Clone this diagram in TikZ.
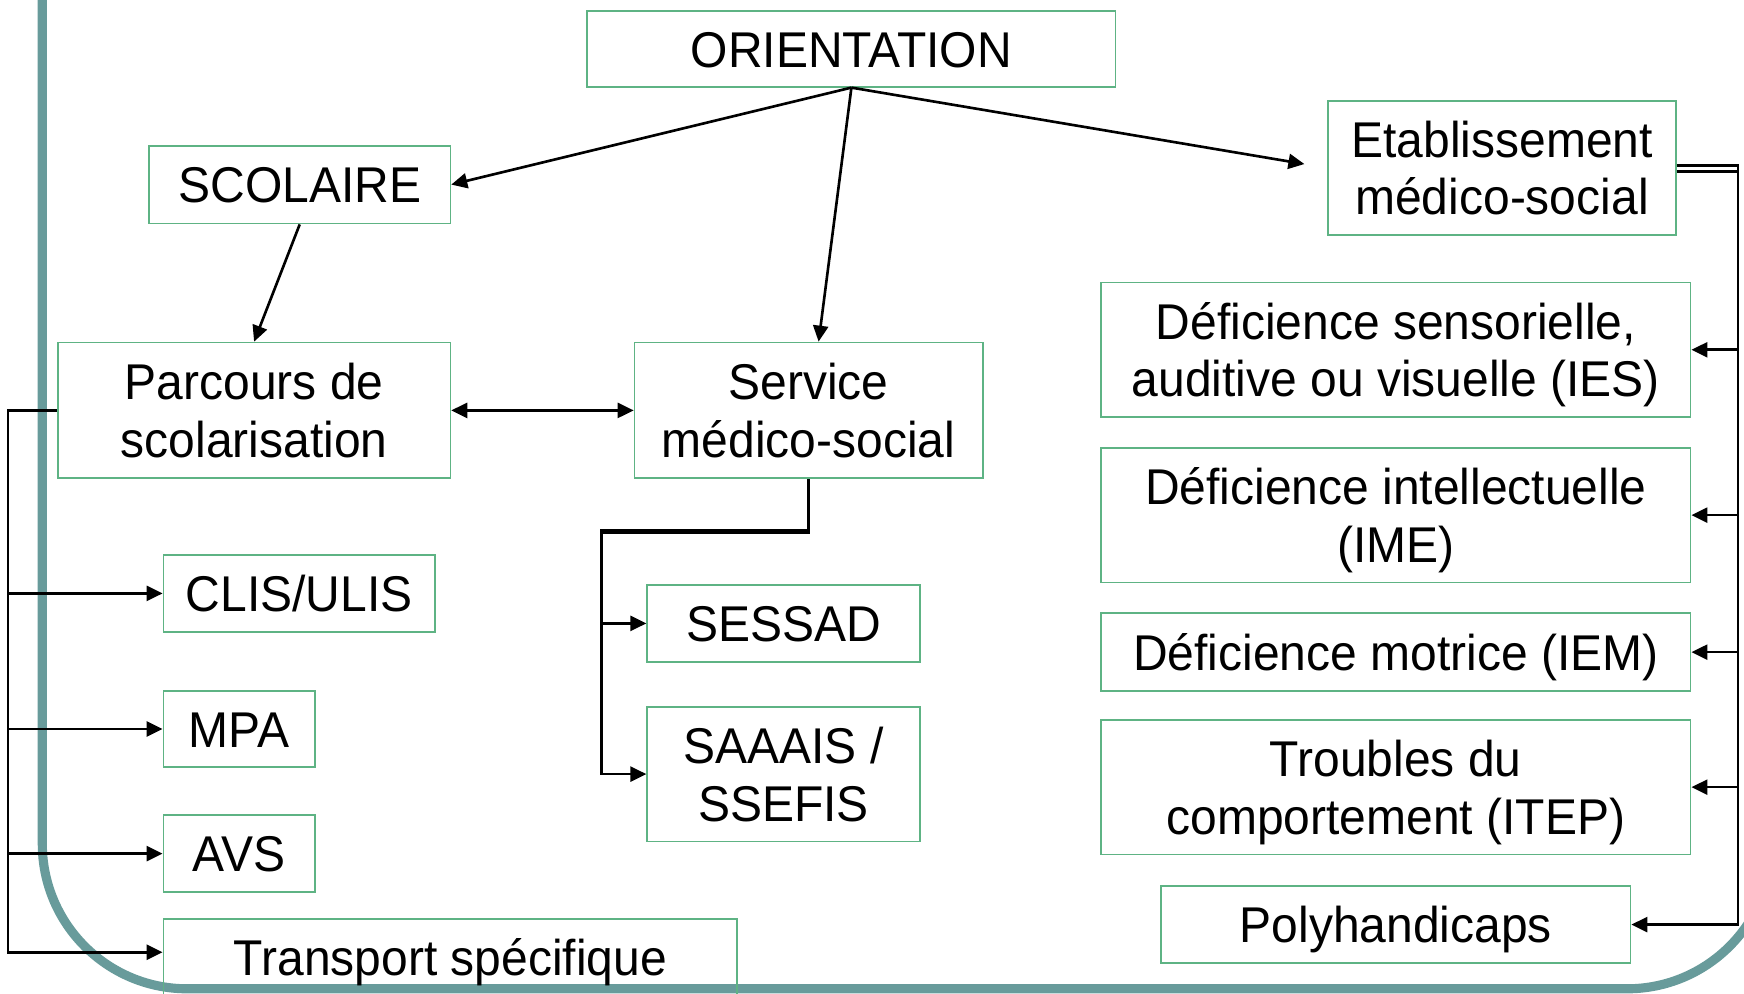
\documentclass[tikz,border=0pt]{standalone}
\usepackage{fontspec}
\setmainfont{Liberation Sans}[FakeStretch=0.955]
\usepackage{xcolor}
\usepackage{tikz}
\usetikzlibrary{arrows.meta, positioning}
\definecolor{boxgreen}{RGB}{94,179,132}
\definecolor{frameteal}{RGB}{104,155,155}
\tikzstyle{box} = [rectangle, draw=boxgreen, line width=0.5pt, inner sep=0pt, align=center, text centered, font=\fontsize{14.3}{16.4}\selectfont,
	execute at begin node={\rule[-3.1pt]{0pt}{16.6pt}}]
\tikzstyle{tall} = [execute at begin node={\rule[-3.1pt]{0pt}{33pt}}]
\tikzstyle{link} = [-{Triangle[length=1.6mm, width=1.5mm]}, line width=0.75pt]

\begin{document}
\begin{tikzpicture}
		\useasboundingbox (0,0) rectangle (17.44,-9.94);
		\clip (0,0) rectangle (17.44,-9.94);
		\draw [frameteal, line width=2.6pt, rounded corners=1.45cm] (0.423,2) rectangle (17.72,-9.888);

		\node (orient)[box, minimum width=5.283cm, minimum height=0.757cm] at (8.514,-0.489) {ORIENTATION};
		\node (scol)[box, minimum width=3.014cm, minimum height=0.779cm] at (2.997,-1.846) {SCOLAIRE};
		\node (etab)[box, tall, minimum width=3.481cm, minimum height=1.335cm] at (15.020,-1.679) {Etablissement\\médico-social};
		\node (parc)[box, tall, minimum width=3.926cm, minimum height=1.357cm] at (2.541,-4.104) {Parcours de\\scolarisation};
		\node (serv)[box, tall, minimum width=3.481cm, minimum height=1.357cm, right = 1.824cm of parc] {Service\\médico-social};

		\node (ies)[box, tall, minimum width=5.895cm, minimum height=1.346cm] at (13.958,-3.498) {Déficience sensorielle,\\auditive ou visuelle (IES)};
		\node (ime)[box, tall, minimum width=5.895cm, minimum height=1.346cm, below = 0.29cm of ies] {Déficience intellectuelle\\(IME)};
		\node (iem)[box, minimum width=5.895cm, minimum height=0.779cm, below = 0.29cm of ime] {Déficience motrice (IEM)};
		\node (itep)[box, tall, minimum width=5.895cm, minimum height=1.346cm, below = 0.27cm of iem] {Troubles du\\comportement (ITEP)};
		\node (poly)[box, minimum width=4.694cm, minimum height=0.767cm, below = 0.30cm of itep] {Polyhandicaps};

		\node (clis)[box, minimum width=2.714cm, minimum height=0.767cm] at (2.992,-5.934) {CLIS/ULIS};
		\node (mpa)[box, minimum width=1.513cm, minimum height=0.767cm] at (2.391,-7.290) {MPA};
		\node (avs)[box, minimum width=1.513cm, minimum height=0.767cm] at (2.391,-8.536) {AVS};
		\node (transp)[box, minimum width=5.739cm, minimum height=0.767cm] at (4.504,-9.575) {Transport spécifique};

		\node (sessad)[box, minimum width=2.725cm, minimum height=0.767cm] at (7.835,-6.234) {SESSAD};
		\node (saaais)[box, tall, minimum width=2.725cm, minimum height=1.346cm, below = 0.433cm of sessad] {SAAAIS /\\SSEFIS};

		\draw [link] (orient.south) -- (scol.east);
		\draw [link] (orient.south) -- ([xshift=1mm]serv.north);
		\draw [link, shorten >=0.23cm] (orient.south) -- (etab.west);
		\draw [link] (scol.south) -- (parc.north);
		\draw [{Triangle[length=1.6mm, width=1.5mm]}-{Triangle[length=1.6mm, width=1.5mm]}, line width=0.75pt] (parc.east) -- (serv.west);

		\draw [link] (parc.west) -- ++(-0.49,0) |- (clis.west);
		\draw [link] (parc.west) -- ++(-0.49,0) |- (mpa.west);
		\draw [link] (parc.west) -- ++(-0.49,0) |- (avs.west);
		\draw [link] (parc.west) -- ++(-0.49,0) |- ([yshift=1.5pt]transp.west);

		\draw [link] (serv.south) -- ++(0,-0.512) -- ++(-2.074,0) |- (sessad.west);
		\draw [link] (serv.south) -- ++(0,-0.54) -- ++(-2.074,0) |- (saaais.west);

		\draw [link] ([yshift=-1pt]etab.east) -- ++(0.612,0) |- (ies.east);
		\draw [link] ([yshift=-1pt]etab.east) -- ++(0.612,0) |- (ime.east);
		\draw [link] ([yshift=-1pt]etab.east) -- ++(0.612,0) |- (iem.east);
		\draw [link] ([yshift=-1pt]etab.east) -- ++(0.612,0) |- (itep.east);
		\draw [link] ([yshift=0.7pt]etab.east) -- ++(0.612,0) |- (poly.east);
	\end{tikzpicture}
\end{document}
